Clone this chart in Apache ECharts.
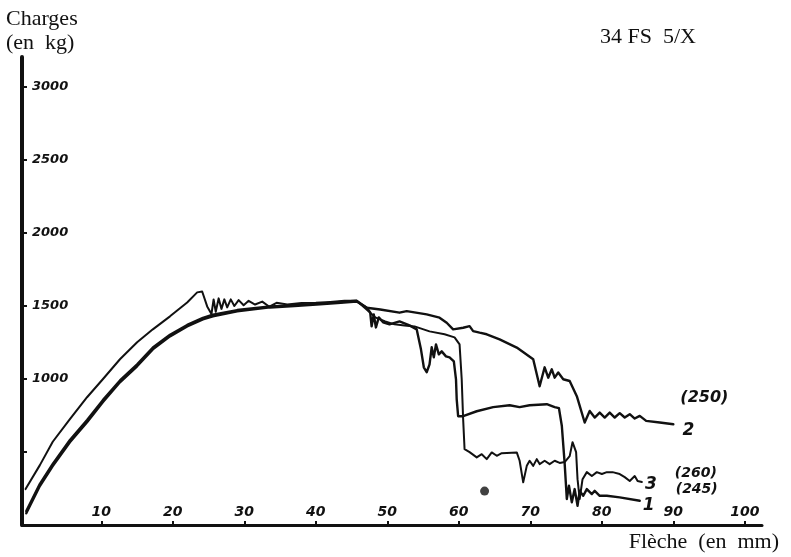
<!DOCTYPE html>
<html>
<head>
<meta charset="utf-8">
<script src="https://cdn.jsdelivr.net/npm/echarts@6/dist/echarts.min.js"></script>
<style>
  html, body { margin: 0; background: #fff; }
  #chart { width: 791px; height: 557px; }
</style>
</head>
<body>
<div id="chart"></div>
<script>
// points are [flèche (mm), charge (kg)]
var curve1 = [[-0.5, 80], [1.4, 267], [3.2, 403], [5.6, 567], [8.0, 704], [10.2, 841], [12.6, 977], [15.0, 1087],
    [17.2, 1203], [19.6, 1292], [22.0, 1360], [24.2, 1408], [25.6, 1429], [29.0, 1463], [33.6, 1490], [37, 1500],
    [40.6, 1511], [43, 1520], [45.7, 1531], [47.1, 1490],
    [47.6, 1456], [47.8, 1360], [48.1, 1442], [48.4, 1353], [48.8, 1422], [49.4, 1388], [50.3, 1374], [51.7, 1394],
    [53.1, 1367], [54.1, 1340], [54.7, 1203], [55.1, 1080], [55.5, 1046], [55.9, 1100], [56.2, 1217], [56.5, 1148],
    [56.8, 1237], [57.2, 1169], [57.6, 1189], [58.2, 1155], [58.7, 1148], [59.3, 1121], [59.6, 998], [59.7, 861],
    [59.9, 745], [60.6, 745], [62.5, 779], [64.8, 807], [67.1, 820], [68.5, 807], [69.9, 820], [72.3, 827],
    [73.4, 807], [74.0, 800], [74.4, 680], [74.8, 420], [75.1, 178], [75.4, 269], [75.8, 155], [76.2, 246],
    [76.6, 132], [76.9, 234], [77.4, 200], [77.9, 246], [78.6, 212], [79.0, 234], [79.7, 200], [80.7, 200],
    [82.5, 189], [85.3, 166]];
var curve2 = [[-0.5, 95], [1.4, 282], [3.2, 418], [5.6, 582], [8.0, 719], [10.2, 855], [12.6, 990], [15.0, 1100],
    [17.2, 1215], [19.6, 1303], [22.0, 1370], [24.2, 1418], [25.6, 1440], [29.0, 1472], [33.6, 1497], [37, 1506],
    [40.6, 1516], [43, 1525], [45.7, 1536], [47.1, 1488],
    [49.0, 1476], [51.7, 1454], [52.7, 1465], [55.5, 1442], [57.3, 1420], [58.3, 1385], [59.2, 1340], [60.6, 1351],
    [61.5, 1362], [62.0, 1328], [62.9, 1317], [63.9, 1306], [65.7, 1271], [68.1, 1215], [70.4, 1135], [71.3, 950],
    [72.0, 1080], [72.5, 1009], [73.0, 1066], [73.4, 1009], [73.9, 1044], [74.6, 998], [75.5, 986], [76.5, 882],
    [77.6, 702], [78.3, 781], [79.0, 736], [79.7, 770], [80.4, 736], [81.1, 770], [81.8, 736], [82.5, 766],
    [83.2, 736], [83.9, 759], [84.6, 729], [85.3, 747], [86.2, 713], [88.1, 702], [90.0, 690]];
var curve3 = [[-0.6, 246], [1.4, 410], [3.2, 570], [5.6, 725], [8.0, 875], [10.2, 998], [12.6, 1135], [15.0, 1251],
    [17.2, 1340], [19.6, 1429], [22.0, 1524], [23.4, 1593], [24.1, 1599], [24.8, 1497], [25.4, 1445], [25.7, 1545],
    [26.0, 1460], [26.4, 1552], [26.8, 1480],
    [27.2, 1545], [27.6, 1490], [28.1, 1545], [28.6, 1500], [29.2, 1540], [29.9, 1505], [30.6, 1535], [31.5, 1510],
    [32.5, 1530], [33.5, 1495], [34.5, 1522], [36, 1510], [38, 1520], [40, 1522], [42, 1528], [44, 1535],
    [45.7, 1535], [47.1, 1476], [48.3, 1422], [49.7, 1394], [51.0, 1374], [52.4, 1367], [53.8, 1360], [55.9, 1326],
    [58.0, 1306], [59.4, 1285], [60.1, 1237], [60.4, 998], [60.6, 725], [60.8, 519], [61.5, 499], [62.5, 463],
    [63.2, 485], [63.9, 451], [64.6, 497], [65.3, 474], [66.0, 492], [68.1, 497], [68.5, 440], [69.0, 292],
    [69.5, 405], [69.9, 440], [70.4, 405], [70.9, 451], [71.3, 417], [72.0, 440], [72.7, 417], [73.4, 440],
    [74.1, 425], [74.8, 431], [75.5, 472], [75.9, 567], [76.4, 499], [76.6, 314], [76.9, 178], [77.3, 314],
    [77.9, 362], [78.6, 335], [79.3, 362], [80.0, 349], [80.7, 362], [81.5, 362], [82.5, 349], [83.2, 328],
    [83.9, 301], [84.6, 335], [85.0, 301], [85.6, 294]];
var dot = [[63.6, 232]];

var xTicks = [10, 20, 30, 40, 50, 60, 70, 80, 90, 100];
var yTicks = [500, 1000, 1500, 2000, 2500, 3000];
var yLabels = [1000, 1500, 2000, 2500, 3000];

var curveNames = ['1', '2', '3'];
var curveLoads = ['(245)', '(250)', '(260)'];

var ink = '#111';
var handFont = {fontFamily: 'DejaVu Sans', fontStyle: 'italic', fontWeight: 'bold', color: ink};

var chart = echarts.init(document.getElementById('chart'));

function lineSeries(name, data, width) {
    return {
        name: name,
        type: 'line',
        data: data,
        showSymbol: false,
        symbol: 'none',
        lineStyle: {color: ink, width: width, join: 'round', cap: 'round'},
        z: 3
    };
}

function plain(v) {
    return String(v);
}

chart.setOption({
    animation: false,
    backgroundColor: '#fff',
    grid: {left: 22, right: 29, top: 57, bottom: 32},
    xAxis: {
        type: 'value',
        min: -1.1,
        max: 102.4,
        splitLine: {show: false},
        axisLine: {onZero: false, lineStyle: {color: ink, width: 3}},
        axisTick: {inside: true, length: 4, customValues: xTicks, lineStyle: {color: ink, width: 2}},
        axisLabel: Object.assign({inside: true, margin: 6, fontSize: 14, customValues: xTicks, formatter: plain}, handFont)
    },
    yAxis: {
        type: 'value',
        min: 0,
        max: 3205,
        splitLine: {show: false},
        axisLine: {onZero: false, lineStyle: {color: ink, width: 4}},
        axisTick: {inside: true, length: 5, customValues: yTicks, lineStyle: {color: ink, width: 2}},
        axisLabel: Object.assign({inside: true, margin: 10, fontSize: 13, customValues: yLabels, formatter: plain}, handFont)
    },
    series: [
        lineSeries('1', curve1, 2.4),
        lineSeries('2', curve2, 2.4),
        lineSeries('3', curve3, 2),
        {
            type: 'scatter',
            data: dot,
            symbolSize: 9,
            itemStyle: {color: ink}
        }
    ]
});

// axis titles, figure reference, then curve numbers and loads next to each curve end
var texts = [
    {type: 'text', left: 6, top: 7, style: {text: 'Charges\n(en  kg)', font: '22px "Liberation Serif"', fill: ink, lineHeight: 24}},
    {type: 'text', left: 600, top: 26, style: {text: '34 FS  5/X', font: '22px "Liberation Serif"', fill: ink}},
    {type: 'text', right: 12, top: 531, style: {text: 'Flèche  (en  mm)', font: '22px "Liberation Serif"', fill: ink}}
];
var curves = [curve1, curve2, curve3];
var numOffset = [[9, 5], [15, 6], [9, 3]];
var loadOffset = [[57, -11], [31, -26], [54, -9]];
curves.forEach(function (c, i) {
    var end = chart.convertToPixel({gridIndex: 0}, c[c.length - 1]);
    texts.push({
        type: 'text', x: end[0] + numOffset[i][0], y: end[1] + numOffset[i][1],
        style: {text: curveNames[i], font: 'italic bold 17px "DejaVu Sans"', fill: ink, align: 'center', verticalAlign: 'middle'}
    });
    texts.push({
        type: 'text', x: end[0] + loadOffset[i][0], y: end[1] + loadOffset[i][1],
        style: {text: curveLoads[i], font: (i === 1 ? 'italic bold 16px' : 'italic bold 14px') + ' "DejaVu Sans"', fill: ink, align: 'center', verticalAlign: 'middle'}
    });
});
chart.setOption({graphic: texts});
</script>
</body>
</html>
